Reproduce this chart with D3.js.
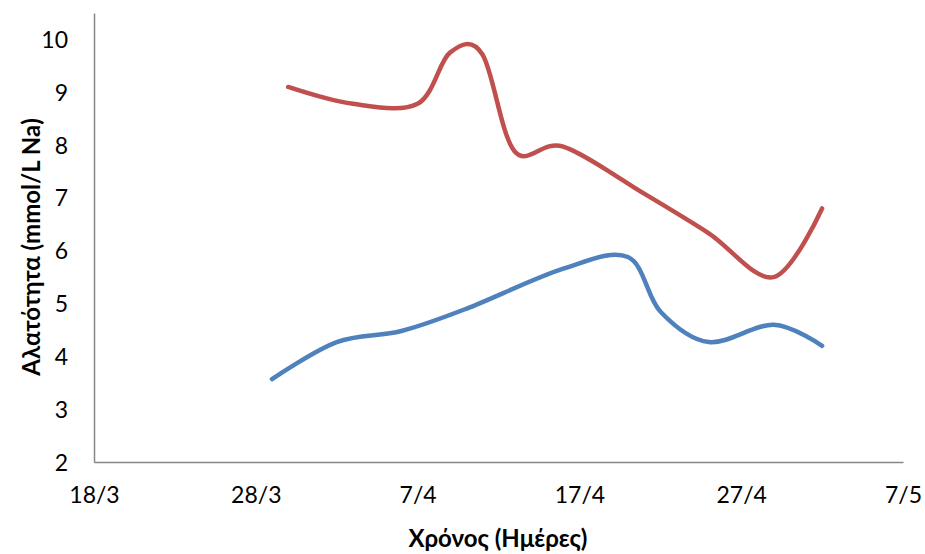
<!DOCTYPE html>
<html>
<head>
<meta charset="utf-8">
<script src="https://cdn.jsdelivr.net/npm/d3@7"></script>
<style>
  html, body { margin: 0; padding: 0; background: #fff; }
  svg text { font-family: Lato, "Open Sans", sans-serif; fill: #000; }
</style>
</head>
<body>
<svg id="chart" width="925" height="554"></svg>
<script>
// ---- data ----
const redDates   = ["2013-03-30","2013-04-03","2013-04-07","2013-04-09","2013-04-11","2013-04-13","2013-04-16","2013-04-21","2013-04-25","2013-04-29","2013-05-02"];
const redValues  = [9.1, 8.78, 8.78, 9.75, 9.72, 7.88, 7.97, 7.08, 6.33, 5.5, 6.8];
const blueDates  = ["2013-03-29","2013-04-02","2013-04-06","2013-04-10","2013-04-16","2013-04-20","2013-04-22","2013-04-25","2013-04-29","2013-05-02"];
const blueValues = [3.57, 4.27, 4.48, 4.9, 5.66, 5.88, 4.85, 4.27, 4.6, 4.2];
const xTickDates = ["2013-03-18","2013-03-28","2013-04-07","2013-04-17","2013-04-27","2013-05-07"];
const yTicks     = [2, 3, 4, 5, 6, 7, 8, 9, 10];
const xTitle = "Χρόνος (Ημέρες)";
const yTitle = "Αλατότητα (mmol/L Na)";

const parse = d3.timeParse("%Y-%m-%d");
const svg = d3.select("#chart");

const x = d3.scaleTime()
  .domain([parse("2013-03-18"), parse("2013-05-07")])
  .range([94, 903]);
const y = d3.scaleLinear().domain([2, 10.5]).range([462, 13]);

const axisColor = "#868686";

// y axis
const yAxis = d3.axisLeft(y).tickValues(yTicks).tickSize(0).tickPadding(26).tickFormat(d3.format("d"));
const gy = svg.append("g").attr("transform", "translate(94,0)").call(yAxis);
gy.select(".domain").attr("stroke", axisColor).attr("stroke-width", 1.5);
gy.selectAll("text").style("font-size", "23px").attr("dy", "0.35em");

// x axis
const xAxis = d3.axisBottom(x).tickValues(xTickDates.map(parse)).tickSize(0).tickPadding(25)
  .tickFormat(d3.timeFormat("%-d/%-m"));
const gx = svg.append("g").attr("transform", "translate(0,462)").call(xAxis);
gx.select(".domain").attr("stroke", axisColor).attr("stroke-width", 1.5);
gx.selectAll("text").style("font-size", "23px");

// lines
const line = d3.line()
  .x(d => x(d.date)).y(d => y(d.value))
  .curve(d3.curveCardinal.tension(0));

const redData  = redDates.map((d, i) => ({date: parse(d), value: redValues[i]}));
const blueData = blueDates.map((d, i) => ({date: parse(d), value: blueValues[i]}));

svg.append("path").datum(blueData).attr("d", line)
  .attr("fill", "none").attr("stroke", "#4F81BD").attr("stroke-width", 4.5)
  .attr("stroke-linecap", "round").attr("stroke-linejoin", "round");
svg.append("path").datum(redData).attr("d", line)
  .attr("fill", "none").attr("stroke", "#C0504D").attr("stroke-width", 4.5)
  .attr("stroke-linecap", "round").attr("stroke-linejoin", "round");

// titles
svg.append("text").attr("x", 498).attr("y", 547).attr("text-anchor", "middle")
  .style("font-size", "24px").style("font-weight", "bold").text(xTitle);
svg.append("text").attr("transform", "translate(40,247) rotate(-90)").attr("text-anchor", "middle")
  .style("font-size", "24px").style("font-weight", "bold").text(yTitle);
</script>
</body>
</html>
